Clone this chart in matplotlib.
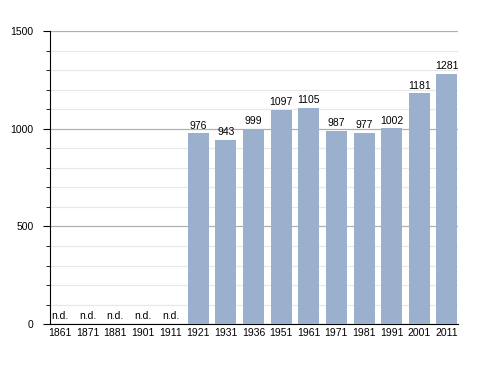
import numpy as np
import matplotlib.pyplot as plt
from matplotlib.ticker import MultipleLocator

plt.rcParams["font.family"] = ["Liberation Sans", "DejaVu Sans"]

years = ["1861", "1871", "1881", "1901", "1911", "1921", "1931", "1936",
         "1951", "1961", "1971", "1981", "1991", "2001", "2011"]
population = [None, None, None, None, None, 976, 943, 999,
              1097, 1105, 987, 977, 1002, 1181, 1281]

fig = plt.figure(figsize=(4.88, 3.73), dpi=100)
ax = fig.add_axes([0.1025, 0.131, 0.836, 0.786])

x = np.arange(len(years))
for i, v in enumerate(population):
    if v is None:
        ax.text(i, 18, "n.d.", ha="center", va="bottom", fontsize=7.5)
    else:
        ax.bar(i, v, width=0.76, color="#9ab0cc", zorder=3)
        ax.annotate(str(v), (i, v), xytext=(0, 2), textcoords="offset points",
                    ha="center", va="bottom", fontsize=7.5)

ax.set_ylim(0, 1500)
ax.set_xlim(-0.36, len(years) - 1 + 0.4)
ax.set_yticks([0, 500, 1000, 1500])
ax.yaxis.set_minor_locator(MultipleLocator(100))
ax.grid(axis="y", which="major", color="#b0b0b0", lw=0.9, zorder=0)
ax.grid(axis="y", which="minor", color="#e8e8e8", lw=0.9, zorder=0)
ax.set_xticks(x)
ax.set_xticklabels(years, fontsize=7.5)
ax.tick_params(axis="x", length=0, pad=3)
ax.tick_params(axis="y", which="major", length=5, labelsize=7.5, pad=7)
ax.tick_params(axis="y", which="minor", length=3)
for s in ["top", "right"]:
    ax.spines[s].set_visible(False)

fig.savefig("out.png", dpi=100)
